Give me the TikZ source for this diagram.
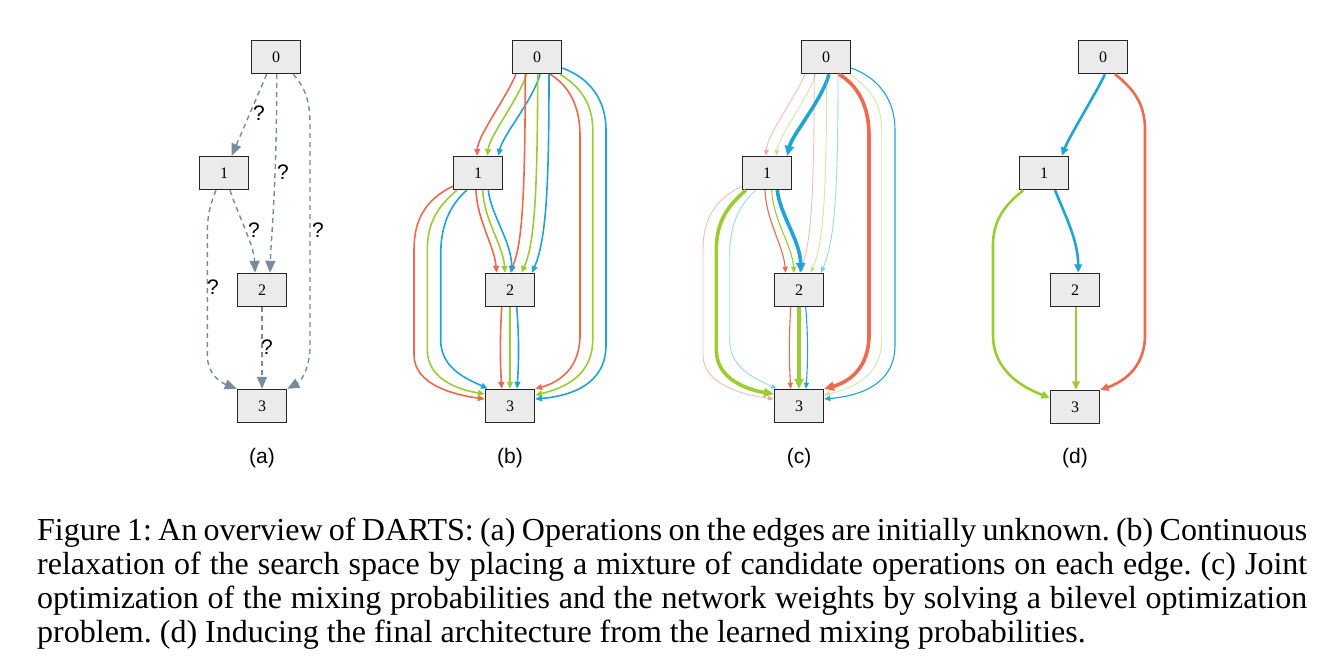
\documentclass[tikz,border=0pt]{standalone}
\usepackage{fontspec}
\setmainfont{Liberation Serif}
\newfontfamily\labelfont{Liberation Sans}
\usetikzlibrary{arrows.meta,calc}
\definecolor{opred}{HTML}{F0694F}
\definecolor{opgreen}{HTML}{9ACD32}
\definecolor{opblue}{HTML}{1DA5D8}
\definecolor{unknown}{HTML}{7A8B9D}
\definecolor{cellfill}{HTML}{EBEBEB}

\tikzset{
  cell/.style={draw=black!85, fill=cellfill, line width=1.4pt, minimum width=49pt, minimum height=33pt, inner sep=0pt, font=\fontsize{16}{16}\selectfont},
  op/.style={line width=1.6pt, -{Triangle[length=4.5pt 1.5, width=3.5pt 1.5]}},
  ered/.style={op, color=opred},
  egreen/.style={op, color=opgreen},
  eblue/.style={op, color=opblue},
  faint/.style={line width=0.9pt, opacity=0.45},
  slim/.style={line width=1.1pt},
  heavy/.style={line width=3.6pt},
  final/.style={line width=2.6pt},
  wr/.style={}, wg/.style={}, wb/.style={},
  unk/.style={draw=unknown, line width=1.4pt, dash pattern=on 5pt off 4pt, -{Triangle[length=12pt, width=10pt, fill=unknown]}},
  qmark/.style={font=\labelfont\fontsize{21}{21}\selectfont, inner sep=1pt},
  sublabel/.style={font=\labelfont\fontsize{21}{21}\selectfont, inner sep=1pt}
}

% one mixed cell; #1 name prefix, #2..#7 weights of edges 0-1,0-2,0-3,1-2,1-3,2-3
\newcommand{\mixpanel}[7]{%
  \node[cell] (#10) at (537,57) {0};
  \node[cell] (#11) at (478,173) {1};
  \node[cell] (#12) at (510,290) {2};
  \node[cell] (#13) at (510,406) {3};
  \begin{scope}[#2]
    \draw[ered,wr] ([xshift=-21pt]#10.south) .. controls (505,100) and (478,135) .. ([xshift=-1pt]#11.north);
    \draw[egreen,wg] ([xshift=-10.3pt]#10.south) .. controls (518,100) and (490,135) .. ([xshift=9.3pt]#11.north);
    \draw[eblue,wb] ([xshift=3pt]#10.south) .. controls (533,100) and (503,135) .. ([xshift=20.3pt]#11.north);
  \end{scope}
  \begin{scope}[#3]
    \draw[ered,wr] ([xshift=-11.7pt]#10.south) .. controls (525,200) and (522,245) .. (#12.north);
    \draw[egreen,wg] ([xshift=0.7pt]#10.south) .. controls (537.5,200) and (534,245) .. ([xshift=11.5pt]#12.north);
    \draw[eblue,wb] ([xshift=12pt]#10.south) .. controls (549,190) and (546,240) .. ([xshift=22pt]#12.north);
  \end{scope}
  \begin{scope}[#4]
    \draw[ered,wr] ([xshift=13pt]#10.south) .. controls (568,85) and (580,105) .. (580,135) -- (580,335) .. controls (580,368) and (560,382) .. (#13.north east);
    \draw[egreen,wg] ([xshift=23pt]#10.south) .. controls (582,88) and (592.7,105) .. (592.7,130) -- (592.7,340) .. controls (592.7,375) and (565,388) .. ([yshift=11pt]#13.east);
    \draw[eblue,wb] ([yshift=-11pt]#10.east) .. controls (590,78) and (606,100) .. (606,130) -- (606,345) .. controls (606,385) and (570,396) .. ([yshift=7pt]#13.east);
  \end{scope}
  \begin{scope}[#5]
    \draw[ered,wr] ([xshift=-2pt]#11.south) .. controls (477,220) and (494,245) .. ([xshift=-13.3pt]#12.north);
    \draw[egreen,wg] ([xshift=4.7pt]#11.south) .. controls (484,220) and (503,245) .. ([xshift=-5pt]#12.north);
    \draw[eblue,wb] ([xshift=10.3pt]#11.south) .. controls (491,215) and (511,240) .. ([xshift=2pt]#12.north);
  \end{scope}
  \begin{scope}[#6]
    \draw[ered,wr] ([yshift=4pt]#11.south west) .. controls (425,200) and (414,220) .. (414,250) -- (414,355) .. controls (414,385) and (455,395) .. ([yshift=7pt]#13.west);
    \draw[egreen,wg] ([xshift=4pt]#11.south west) .. controls (440,205) and (427.3,220) .. (427.3,250) -- (427.3,350) .. controls (427.3,380) and (460,390) .. ([yshift=12pt]#13.west);
    \draw[eblue,wb] ([xshift=14pt]#11.south west) .. controls (450,205) and (440.7,225) .. (440.7,255) -- (440.7,340) .. controls (440.7,370) and (470,380) .. ([xshift=3pt]#13.north west);
  \end{scope}
  \begin{scope}[#7]
    \draw[ered,wr] ([xshift=-8.3pt]#12.south) .. controls (500,335) and (500,360) .. ([xshift=-8.3pt]#13.north);
    \draw[egreen,wg] (#12.south) -- (#13.north);
    \draw[eblue,wb] ([xshift=6.7pt]#12.south) .. controls (519,335) and (519,360) .. ([xshift=7pt]#13.north);
  \end{scope}
}

\begin{document}
\begin{tikzpicture}[x=1pt, y=-1pt]
  \useasboundingbox (0,0) rectangle (1344,664);

  % (a)
  \node[cell] (a0) at (276,57) {0};
  \node[cell] (a1) at (224,173) {1};
  \node[cell] (a2) at (262,290) {2};
  \node[cell] (a3) at (262,406) {3};
  \draw[unk] ([xshift=-9.3pt]a0.south) -- ([xshift=7.7pt]a1.north);
  \draw[unk] ([xshift=0.7pt]a0.south) .. controls (277,180) and (271,240) .. ([xshift=8pt]a2.north);
  \draw[unk] ([xshift=17.3pt]a0.south) .. controls (305,88) and (310,100) .. (310,125) -- (310,345) .. controls (310,370) and (300,382) .. (a3.north east);
  \draw[unk] ([xshift=6pt]a1.south) .. controls (238,215) and (254,245) .. ([xshift=-7pt]a2.north);
  \draw[unk] ([xshift=-8pt]a1.south) .. controls (210,205) and (207.3,215) .. (207.3,235) -- (207.3,355) .. controls (207.3,375) and (222,383) .. (a3.north west);
  \draw[unk] (a2.south) -- (a3.north);
  \node[qmark] (q01) at (259,113) {?};
  \node[qmark] (q02) at (283,172) {?};
  \node[qmark] (q03) at (318,230) {?};
  \node[qmark] (q12) at (254,230) {?};
  \node[qmark] (q13) at (213,287) {?};
  \node[qmark] (q23) at (267,347) {?};

  % (b) and (c)
  \mixpanel{b}{}{}{}{}{}{}
  \begin{scope}[xshift=289pt]
    \mixpanel{c}{wr/.style={faint}, wg/.style={faint}, wb/.style={heavy}}%
      {wr/.style={faint}, wg/.style={faint}, wb/.style={faint}}%
      {wr/.style={heavy}, wg/.style={faint}, wb/.style={slim}}%
      {wr/.style={slim}, wg/.style={slim}, wb/.style={heavy}}%
      {wr/.style={faint}, wg/.style={heavy}, wb/.style={faint}}%
      {wr/.style={slim}, wg/.style={heavy}, wb/.style={slim}}
  \end{scope}

  % (d)
  \node[cell] (d0) at (1103,57) {0};
  \node[cell] (d1) at (1044,173) {1};
  \node[cell] (d2) at (1075,290) {2};
  \node[cell] (d3) at (1075,407) {3};
  \draw[eblue,final] ([xshift=2pt]d0.south) .. controls (1095,95) and (1070,135) .. ([xshift=17.7pt]d1.north);
  \draw[ered,final] ([xshift=12pt]d0.south) .. controls (1135,90) and (1145,105) .. (1145,130) -- (1145,335) .. controls (1145,370) and (1120,383) .. (d3.north east);
  \draw[eblue,final] ([xshift=11pt]d1.south) .. controls (1065,215) and (1078,240) .. ([xshift=3.3pt]d2.north);
  \draw[egreen,final] ([xshift=-20.7pt]d1.south) .. controls (1005,205) and (993,220) .. (993,245) -- (993,335) .. controls (993,375) and (1030,390) .. ([yshift=9pt]d3.west);
  \draw[egreen,final] ([xshift=1pt]d2.south) -- ([xshift=1pt]d3.north);

  \node[sublabel] (la) at (262,458) {(a)};
  \node[sublabel] (lb) at (510,458) {(b)};
  \node[sublabel] (lc) at (799,458) {(c)};
  \node[sublabel] (ld) at (1075,458) {(d)};

  \node[anchor=north west, inner sep=0pt, text width=1270pt, align=justify, font=\fontsize{32}{34}\selectfont\frenchspacing] (caption) at (37,517.5) {Figure 1: An overview of DARTS: (a) Operations on the edges are initially unknown. (b) Continuous\linebreak relaxation of the search space by placing a mixture of candidate operations on each edge. (c) Joint\linebreak optimization of the mixing probabilities and the network weights by solving a bilevel optimization\linebreak problem. (d) Inducing the final architecture from the learned mixing probabilities.};
\end{tikzpicture}
\end{document}
